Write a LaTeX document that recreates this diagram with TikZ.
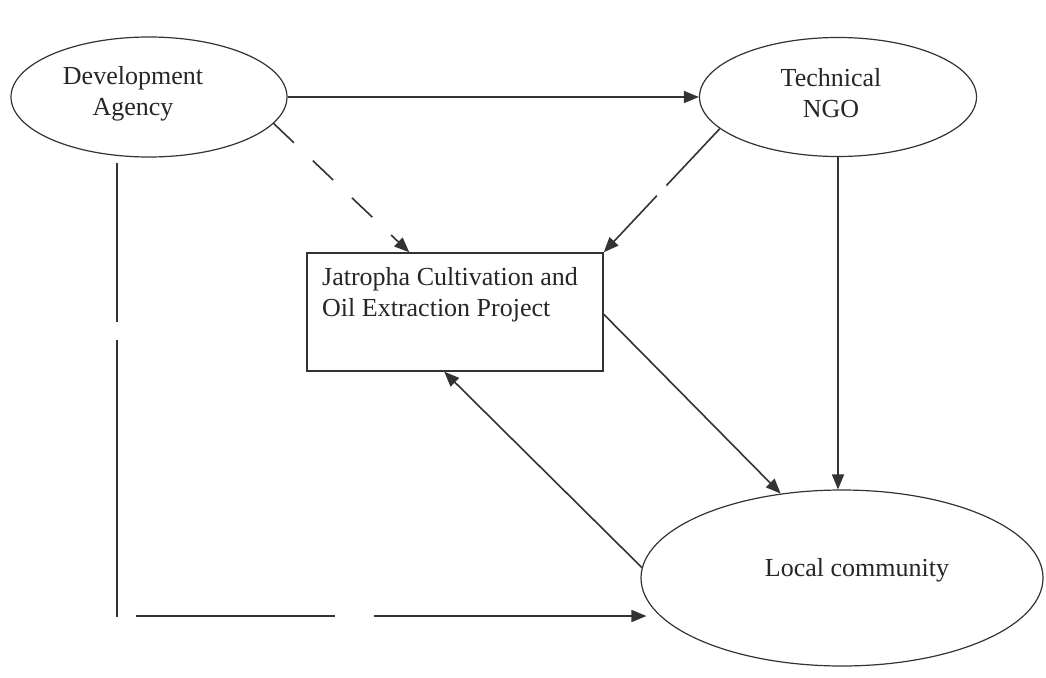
\documentclass[tikz,border=0pt]{standalone}
\usepackage{fontspec}
\setmainfont{Liberation Serif}
\usetikzlibrary{shapes.geometric,arrows.meta,calc}
\begin{document}
\begin{tikzpicture}[x=1pt,y=-1pt,
  ell/.style={draw=black!80, line width=1.2pt, ellipse, inner sep=0pt},
  box/.style={draw=black!80, line width=1.5pt, rectangle, inner sep=0pt},
  txt/.style={font=\fontsize{26}{31}\selectfont, text=black!85, align=center, inner sep=0pt},
  conn/.style={draw=black!80, line width=1.6pt, -{Triangle[length=15pt,width=12pt]}}]
\useasboundingbox (0,0) rectangle (1046,677);
\fill[white] (0,0) rectangle (1046,677);
% shapes
\node[ell, minimum width=276pt, minimum height=120pt] (da) at (149,97) {};
\node[ell, minimum width=277pt, minimum height=119pt] (ngo) at (838,97) {};
\node[box, minimum width=296pt, minimum height=118pt] (prj) at (455,312) {};
\node[ell, minimum width=402pt, minimum height=176pt] (lc) at (842,578) {};
% texts
\node[txt] (datx) at (133,94) {Development\\Agency};
\node[txt] (ngotx) at (831,93) {Technical\\NGO};
\node[txt, anchor=west, align=left] (prjtx) at (322,295) {Jatropha Cultivation and\\Oil Extraction Project};
\node[txt] (lctx) at (857,570) {Local community};
% connectors
\draw[conn] (da.east) -- (ngo.west);
\draw[conn, dash pattern=on 28pt off 26pt] (da.-12) -- ($(prj.north west)+(103,0)$);
\draw[conn, dash pattern=on 78pt off 14pt on 400pt off 1pt] (ngo.195) -- (prj.north east);
\draw[conn] (ngo.south) -- (ngo.south |- lc.north);
\draw[conn] ($(prj.north east)+(0,62)$) -- (lc.126);
\draw[conn] (lc.177) -- ($(prj.south west)+(138,0)$);
\coordinate (dastart) at (117,163);
\coordinate (corner) at (117,616);
\draw[conn, dash pattern=on 159pt off 18pt on 277pt off 18pt on 199pt off 39pt on 600pt off 1pt]
  (dastart) -- (corner) -- ($(lc.west |- corner)+(6,0)$);
\end{tikzpicture}
\end{document}
